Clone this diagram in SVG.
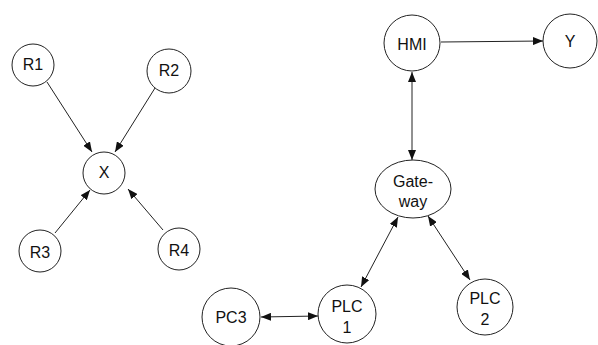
<svg xmlns="http://www.w3.org/2000/svg" width="598" height="345" viewBox="0 0 598 345">
<style>
.n{fill:#fff;stroke:#222;stroke-width:1}
.t{font-family:"Liberation Sans",Arial,sans-serif;font-size:16px;fill:#111;text-anchor:middle}
.e{stroke:#222;stroke-width:1;fill:none}
</style>
<defs>
<marker id="ah" viewBox="0 0 10 8" refX="10" refY="4" markerWidth="10" markerHeight="8" markerUnits="userSpaceOnUse" orient="auto-start-reverse">
<path d="M0,0 L10,4 L0,8 Z" fill="#111"/>
</marker>
</defs>
<rect width="598" height="345" fill="#fff"/>
<g id="edges">
<line class="e" x1="47" y1="82" x2="92" y2="152" marker-end="url(#ah)"/>
<line class="e" x1="155" y1="88" x2="115" y2="152" marker-end="url(#ah)"/>
<line class="e" x1="55" y1="233" x2="90" y2="190" marker-end="url(#ah)"/>
<line class="e" x1="163" y1="230" x2="128" y2="189" marker-end="url(#ah)"/>
<line class="e" x1="441" y1="42" x2="543" y2="41" marker-end="url(#ah)"/>
<line class="e" x1="412" y1="72" x2="412" y2="160" marker-start="url(#ah)" marker-end="url(#ah)"/>
<line class="e" x1="398" y1="217" x2="361" y2="287" marker-start="url(#ah)" marker-end="url(#ah)"/>
<line class="e" x1="428" y1="216" x2="470" y2="280" marker-start="url(#ah)" marker-end="url(#ah)"/>
<line class="e" x1="261" y1="317" x2="318" y2="316" marker-start="url(#ah)" marker-end="url(#ah)"/>
</g>
<g id="R1"><circle class="n" cx="33" cy="65" r="21"/><text class="t" x="33" y="70">R1</text></g>
<g id="R2"><circle class="n" cx="169" cy="71" r="22"/><text class="t" x="169" y="76">R2</text></g>
<g id="X"><circle class="n" cx="104" cy="173" r="21"/><text class="t" x="104" y="178">X</text></g>
<g id="R3"><circle class="n" cx="40" cy="251" r="21"/><text class="t" x="40" y="258">R3</text></g>
<g id="R4"><circle class="n" cx="179" cy="249" r="21"/><text class="t" x="179" y="256">R4</text></g>
<g id="HMI"><circle class="n" cx="412" cy="43" r="28"/><text class="t" x="412" y="50">HMI</text></g>
<g id="Y"><circle class="n" cx="570" cy="41" r="27"/><text class="t" x="570" y="47">Y</text></g>
<g id="Gateway"><ellipse class="n" cx="413" cy="189" rx="38" ry="29"/><text class="t" x="413" y="187">Gate-</text><text class="t" x="413" y="207">way</text></g>
<g id="PC3"><circle class="n" cx="231" cy="317" r="29"/><text class="t" x="231" y="323">PC3</text></g>
<g id="PLC1"><circle class="n" cx="347" cy="314" r="29"/><text class="t" x="347" y="312">PLC</text><text class="t" x="347" y="333">1</text></g>
<g id="PLC2"><circle class="n" cx="485" cy="307" r="28"/><text class="t" x="485" y="304">PLC</text><text class="t" x="485" y="325">2</text></g>
</svg>
